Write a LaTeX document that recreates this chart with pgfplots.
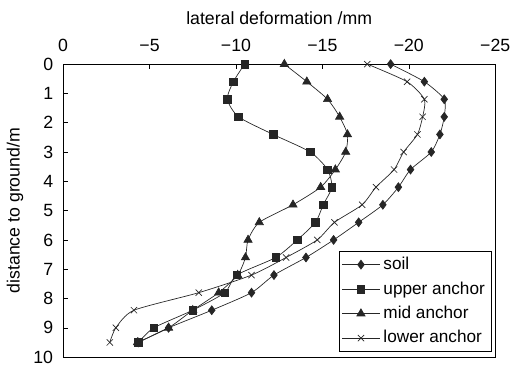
\documentclass[border=0pt]{standalone}
\usepackage{fontspec}
\setmainfont{Liberation Sans}
\usepackage{pgfplots}
\pgfplotsset{compat=1.18}
\newcommand\mn{\char"2212\relax}
\begin{document}
\fontsize{18}{21}\selectfont
\begin{tikzpicture}
\begin{axis}[
 scale only axis, width=438bp, height=297bp,
 x dir=reverse, y dir=reverse,
 xmin=-25, xmax=0, ymin=0, ymax=10,
 xtick={-25,-20,-15,-10,-5,0},
 xticklabels={\mn25,\mn20,\mn15,\mn10,\mn5,0},
 ytick={0,1,2,3,4,5,6,7,8,9,10},
 tick align=inside,
 xtick pos=right, xticklabel pos=right,
 ytick pos=left,
 major tick length=5bp,
 tick style={black, line width=0.6pt},
 axis line style={line width=0.9pt},
 /pgf/number format/assume math mode=true,
 ticklabel style={font=\fontsize{18}{21}\selectfont},
 xticklabel style={yshift=6bp},
 yticklabel style={xshift=-4bp},
 label style={font=\fontsize{18}{21}\selectfont},
 xlabel={lateral deformation /mm},
 xlabel style={yshift=3bp},
 ylabel={distance to ground/m},
 ylabel style={yshift=-2bp},
 every axis plot/.append style={black!85, line width=0.7pt, smooth, tension=0.4},
 legend style={at={(1,0)}, anchor=south east, xshift=-3.7bp, yshift=5.3bp,
   font=\fontsize{17.5}{20}\selectfont, draw=black, line width=0.7pt,
   row sep=5.5bp, inner xsep=3pt, inner ysep=4pt,
   nodes={inner xsep=3.5pt}},
 legend cell align=left,
 legend image code/.code={\draw[mark repeat=2,mark phase=2] plot coordinates {(0bp,0bp) (19bp,0bp) (38bp,0bp)};},
]
\addplot[mark=diamond*, mark size=4.5pt] coordinates {
(-18.95,0) (-20.9,0.6) (-22.05,1.2) (-22.05,1.8) (-21.8,2.4) (-21.3,3.0) (-20.1,3.6) (-19.4,4.2) (-18.5,4.8) (-17.1,5.4) (-15.65,6.0) (-14.05,6.6) (-12.2,7.2) (-10.9,7.8) (-8.6,8.4) (-6.1,9.0) (-4.35,9.5)};
\addlegendentry{soil}
\addplot[mark=square*, mark size=3.8pt] coordinates {
(-10.5,0) (-9.85,0.6) (-9.5,1.2) (-10.15,1.8) (-12.15,2.4) (-14.3,3.0) (-15.3,3.6) (-15.55,4.2) (-15.05,4.8) (-14.6,5.4) (-13.55,6.0) (-12.3,6.6) (-10.05,7.2) (-9.35,7.8) (-7.5,8.4) (-5.25,9.0) (-4.35,9.5)};
\addlegendentry{upper anchor}
\addplot[mark=triangle*, mark size=4.8pt] coordinates {
(-12.8,0) (-14.1,0.6) (-15.3,1.2) (-16.0,1.8) (-16.45,2.4) (-16.35,3.0) (-15.75,3.6) (-14.9,4.2) (-13.3,4.8) (-11.35,5.4) (-10.7,6.0) (-10.55,6.6) (-10.1,7.2) (-9.0,7.8) (-7.5,8.4) (-6.1,9.0) (-4.3,9.5)};
\addlegendentry{mid anchor}
\addplot[mark=x, mark size=4.5pt] coordinates {
(-17.6,0) (-19.9,0.6) (-20.9,1.2) (-20.8,1.8) (-20.5,2.4) (-19.7,3.0) (-19.15,3.6) (-18.1,4.2) (-17.3,4.8) (-15.7,5.4) (-14.7,6.0) (-12.9,6.6) (-10.9,7.2) (-7.85,7.8) (-4.1,8.4) (-3.05,9.0) (-2.7,9.5)};
\addlegendentry{lower anchor}
\end{axis}
\pgfresetboundingbox
\path[use as bounding box] ([xshift=-64bp,yshift=65bp]current axis.north west) rectangle ([xshift=454bp,yshift=-312bp]current axis.north west);
\end{tikzpicture}
\end{document}
